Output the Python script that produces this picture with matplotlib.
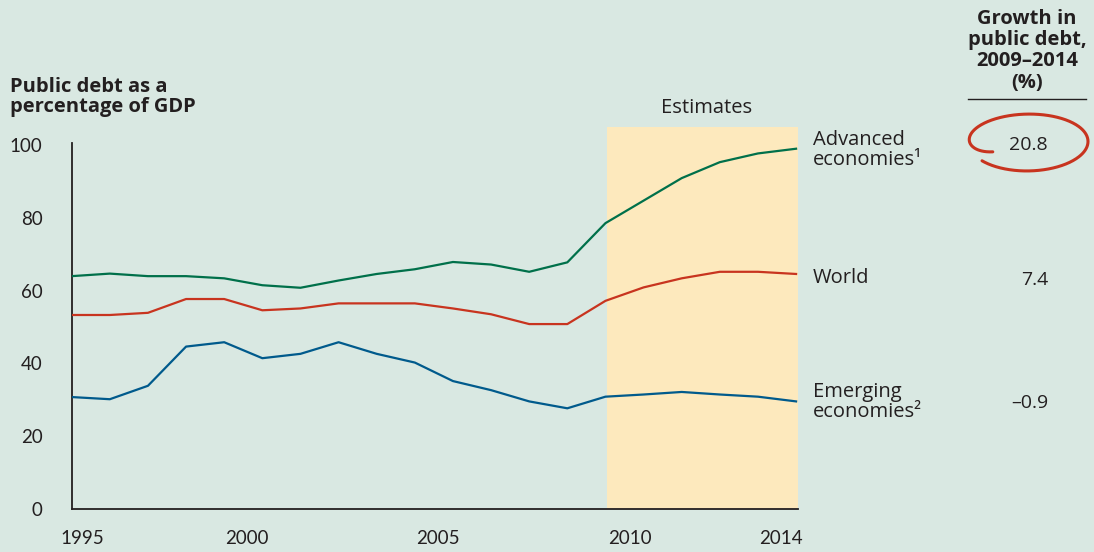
import numpy as np
import matplotlib
matplotlib.use("Agg")
import matplotlib.pyplot as plt
from matplotlib import transforms as mtrans

# ---------------- data ----------------
years = list(range(1995, 2015))
advanced = [64.0, 64.7, 64.0, 64.0, 63.4, 61.5, 60.8, 62.8, 64.6, 65.9,
            67.9, 67.2, 65.2, 67.8, 78.6, 84.8, 91.0, 95.4, 97.8, 99.1]
world = [53.3, 53.3, 53.9, 57.7, 57.7, 54.6, 55.1, 56.5, 56.5, 56.5,
         55.1, 53.5, 50.8, 50.8, 57.2, 60.9, 63.4, 65.2, 65.2, 64.6]
emerging = [30.7, 30.1, 33.8, 44.6, 45.8, 41.4, 42.6, 45.8, 42.6, 40.2,
            35.1, 32.6, 29.5, 27.6, 30.8, 31.4, 32.1, 31.4, 30.8, 29.5]
series_names = ["Advanced\neconomies\u00b9", "World", "Emerging\neconomies\u00b2"]
growth_labels = ["20.8", "7.4", "\u20130.9"]
xtick_years = [1995, 2000, 2005, 2010, 2014]
ytick_vals = [0, 20, 40, 60, 80, 100]
estimate_start, estimate_end = 2009.05, 2014.04

# ---------------- style ----------------
BG = "#d9e8e2"
SHADE = "#fde9bd"
TXT = "#231f20"
C_ADV = "#00704a"
C_WORLD = "#c8341f"
C_EM = "#005a8c"
FONT = "Open Sans"
TICKFONT = "Lato"
FS = 14.5

W, H = 1094, 552
fig = plt.figure(figsize=(W / 100, H / 100), dpi=100, facecolor=BG)

# main axes (pixel geometry)
x0, x1 = 71.7, 797.6
ybot, ytop = 508.5, 127.3
ax = fig.add_axes([x0 / W, (H - ybot) / H, (x1 - x0) / W, (ybot - ytop) / H])
ax.set_facecolor(BG)
ax.set_xlim(1995, 2014.04)
ax.set_ylim(0, 105)

ax.axvspan(estimate_start, estimate_end, color=SHADE, lw=0, zorder=0)

lw = 1.6
ax.plot(years, advanced, color=C_ADV, lw=lw, zorder=3)
ax.plot(years, world, color=C_WORLD, lw=lw, zorder=3)
ax.plot(years, emerging, color=C_EM, lw=lw, zorder=3)

for s in ["top", "right"]:
    ax.spines[s].set_visible(False)
ax.spines["left"].set_bounds(0, 100.7)
ax.spines["left"].set_color(TXT)
ax.spines["bottom"].set_color(TXT)
ax.spines["left"].set_linewidth(1.3)
ax.spines["bottom"].set_linewidth(1.3)

ax.set_yticks(ytick_vals)
ax.set_yticklabels([str(v) for v in ytick_vals], fontsize=13.5, color=TXT, family=TICKFONT)
ax.tick_params(axis="y", length=0, pad=21.0)
ax.set_xticks([])

# x labels with small horizontal offsets (as in the reference)
offsets_px = [11, -15, -15, -14, -15]
blend = mtrans.blended_transform_factory(ax.transData, ax.transAxes)
for yr, dx in zip(xtick_years, offsets_px):
    tr = blend + mtrans.ScaledTranslation(dx / 100, -30 / 100, fig.dpi_scale_trans)
    ax.text(yr, 0, str(yr), transform=tr, ha="center", va="center",
            fontsize=13.5, color=TXT, family=TICKFONT)

# ---------------- overlay for annotations (pixel coords) ----------------
ov = fig.add_axes([0, 0, 1, 1], zorder=5)
ov.set_xlim(0, W)
ov.set_ylim(H, 0)
ov.axis("off")
ov.patch.set_alpha(0)

ov.text(10, 77, "Public debt as a\npercentage of GDP", ha="left", va="top",
        fontsize=FS, fontweight="bold", color=TXT, family=FONT, linespacing=0.98)

ov.text(707, 108, "Estimates", ha="center", va="center", fontsize=FS,
        color=TXT, family=FONT)

ov.text(1027, 9, "Growth in\npublic debt,\n2009\u20132014\n(%)", ha="center", va="top",
        fontsize=FS, fontweight="bold", color=TXT, family=FONT, linespacing=1.08)
ov.plot([968, 1086], [99, 99], color=TXT, lw=1.0)

label_y = [150, 278, 402]
for name, yy in zip(series_names, label_y):
    ov.text(813, yy, name, ha="left", va="center", fontsize=FS, color=TXT,
            family=FONT, linespacing=1.06)

value_y = [145, 280, 403]
for val, yy in zip(growth_labels, value_y):
    ov.text(1048, yy, val, ha="right", va="center", fontsize=14, color=TXT, family=FONT)

# hand-drawn circle around the advanced-economies value
s = np.linspace(0, 1, 300)
t = np.deg2rad(215 - s * 355)
rx = 60 - 17 * np.exp(-s / 0.04)
ry = 26 - 8 * np.exp(-s / 0.04) + 4 * s
cx, cy = 1028, 141.5
ov.plot(cx + rx * np.cos(t), cy - ry * np.sin(t), color=C_WORLD, lw=2.2,
        solid_capstyle="round")

fig.savefig("out.png", dpi=100, facecolor=BG)
